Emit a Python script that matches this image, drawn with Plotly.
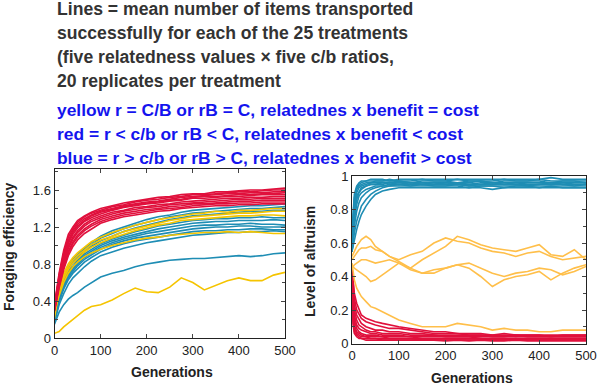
import plotly.graph_objects as go

# ---------------- data ----------------
gen_left = [0, 5, 10, 20, 30, 40, 50, 65, 80, 100, 125, 150, 175, 200, 225, 250,
            275, 300, 325, 350, 375, 400, 425, 450, 475, 500]

forage_red = [
    [0.36,0.55,0.70,0.95,1.12,1.20,1.27,1.32,1.36,1.40,1.43,1.46,1.48,1.50,1.52,1.53,1.55,1.56,1.56,1.58,1.58,1.59,1.60,1.60,1.61,1.62],
    [0.35,0.53,0.68,0.92,1.09,1.18,1.25,1.31,1.35,1.38,1.42,1.44,1.47,1.49,1.50,1.52,1.53,1.55,1.55,1.56,1.57,1.58,1.58,1.59,1.60,1.60],
    [0.34,0.52,0.66,0.90,1.06,1.16,1.23,1.29,1.33,1.37,1.40,1.43,1.45,1.47,1.48,1.50,1.52,1.53,1.54,1.55,1.56,1.56,1.57,1.57,1.58,1.58],
    [0.33,0.50,0.64,0.88,1.04,1.14,1.21,1.27,1.32,1.36,1.39,1.42,1.44,1.46,1.47,1.49,1.50,1.52,1.53,1.53,1.54,1.55,1.55,1.56,1.56,1.57],
    [0.33,0.49,0.63,0.86,1.02,1.12,1.19,1.26,1.30,1.34,1.38,1.41,1.43,1.45,1.46,1.48,1.49,1.51,1.51,1.52,1.53,1.53,1.54,1.55,1.55,1.55],
    [0.32,0.48,0.61,0.83,0.99,1.09,1.16,1.23,1.28,1.32,1.36,1.38,1.41,1.42,1.44,1.45,1.47,1.48,1.49,1.50,1.51,1.51,1.52,1.52,1.53,1.53],
    [0.31,0.46,0.59,0.81,0.97,1.07,1.14,1.21,1.26,1.30,1.34,1.37,1.39,1.41,1.42,1.44,1.45,1.46,1.47,1.48,1.49,1.50,1.50,1.51,1.51,1.51],
    [0.30,0.45,0.57,0.78,0.94,1.04,1.11,1.18,1.23,1.28,1.32,1.35,1.37,1.39,1.40,1.42,1.43,1.45,1.45,1.46,1.47,1.48,1.48,1.49,1.49,1.49],
    [0.30,0.44,0.56,0.76,0.92,1.02,1.09,1.16,1.21,1.26,1.30,1.33,1.35,1.37,1.39,1.40,1.41,1.43,1.44,1.45,1.45,1.46,1.46,1.47,1.47,1.47],
    [0.29,0.43,0.54,0.74,0.89,0.99,1.06,1.13,1.18,1.24,1.28,1.31,1.33,1.35,1.37,1.38,1.40,1.41,1.42,1.43,1.43,1.44,1.44,1.45,1.45,1.45],
]
forage_yellow = [
    [0.30,0.45,0.55,0.70,0.80,0.87,0.92,0.98,1.04,1.09,1.14,1.18,1.22,1.25,1.28,1.30,1.32,1.34,1.35,1.37,1.36,1.38,1.38,1.39,1.40,1.40],
    [0.28,0.42,0.52,0.67,0.77,0.84,0.89,0.95,1.01,1.06,1.10,1.15,1.18,1.21,1.24,1.27,1.29,1.31,1.32,1.33,1.34,1.35,1.35,1.36,1.37,1.37],
    [0.25,0.40,0.50,0.64,0.74,0.81,0.86,0.93,0.98,1.03,1.08,1.12,1.16,1.19,1.22,1.24,1.27,1.28,1.29,1.30,1.31,1.32,1.32,1.33,1.33,1.32],
    [0.22,0.37,0.46,0.60,0.70,0.77,0.82,0.88,0.92,0.96,1.00,1.03,1.06,1.08,1.09,1.11,1.12,1.13,1.14,1.14,1.15,1.14,1.15,1.14,1.13,1.13],
    [0.05,0.06,0.07,0.12,0.16,0.20,0.25,0.30,0.34,0.36,0.41,0.48,0.54,0.50,0.49,0.55,0.65,0.60,0.52,0.57,0.62,0.65,0.62,0.62,0.68,0.71],
]
forage_blue = [
    [0.25,0.40,0.50,0.66,0.77,0.85,0.90,0.97,1.03,1.10,1.16,1.20,1.24,1.28,1.31,1.33,1.36,1.38,1.39,1.40,1.41,1.42,1.43,1.43,1.44,1.45],
    [0.24,0.38,0.48,0.64,0.75,0.83,0.88,0.95,1.01,1.08,1.13,1.18,1.22,1.25,1.28,1.31,1.33,1.35,1.36,1.37,1.38,1.39,1.40,1.40,1.41,1.42],
    [0.23,0.37,0.47,0.62,0.73,0.81,0.86,0.93,0.99,1.05,1.10,1.15,1.19,1.22,1.25,1.28,1.30,1.32,1.33,1.34,1.35,1.36,1.37,1.37,1.38,1.38],
    [0.22,0.36,0.45,0.60,0.71,0.78,0.84,0.91,0.96,1.02,1.07,1.11,1.15,1.18,1.21,1.23,1.25,1.27,1.28,1.29,1.29,1.30,1.30,1.31,1.30,1.30],
    [0.21,0.35,0.44,0.58,0.69,0.76,0.82,0.89,0.94,1.00,1.05,1.09,1.12,1.15,1.18,1.20,1.22,1.24,1.25,1.26,1.26,1.27,1.27,1.27,1.28,1.27],
    [0.20,0.33,0.42,0.56,0.67,0.74,0.80,0.87,0.92,0.98,1.03,1.07,1.10,1.13,1.15,1.17,1.19,1.21,1.22,1.22,1.23,1.23,1.24,1.23,1.23,1.22],
    [0.19,0.32,0.41,0.55,0.65,0.72,0.78,0.85,0.90,0.96,1.01,1.05,1.08,1.10,1.12,1.14,1.16,1.18,1.19,1.20,1.20,1.21,1.21,1.20,1.20,1.20],
    [0.18,0.30,0.39,0.53,0.63,0.70,0.75,0.82,0.87,0.93,0.98,1.02,1.05,1.07,1.09,1.11,1.13,1.15,1.16,1.16,1.17,1.17,1.18,1.18,1.17,1.17],
    [0.17,0.28,0.36,0.48,0.58,0.65,0.70,0.77,0.83,0.89,0.93,0.97,1.00,1.03,1.05,1.07,1.09,1.11,1.12,1.13,1.14,1.14,1.15,1.15,1.16,1.15],
    [0.15,0.22,0.28,0.36,0.42,0.46,0.49,0.55,0.60,0.66,0.70,0.73,0.77,0.80,0.82,0.84,0.85,0.86,0.86,0.87,0.88,0.89,0.88,0.89,0.91,0.92],
]

gen_right = [0, 2, 5, 10, 15, 20, 30, 40, 50, 65, 80, 100, 125, 150, 175, 200, 225,
             250, 275, 300, 325, 350, 375, 400, 425, 450, 475, 500]

altru_blue = [
    [0.55,0.76,0.89,0.94,0.96,0.97,0.97,0.98,0.98,0.98,0.97,0.98,0.98,0.98,0.98,0.98,0.98,0.98,0.98,0.98,0.98,0.98,0.98,0.98,0.99,0.98,0.98,0.98],
    [0.55,0.74,0.87,0.93,0.95,0.96,0.97,0.97,0.97,0.97,0.98,0.97,0.97,0.98,0.97,0.97,0.98,0.97,0.97,0.97,0.98,0.97,0.97,0.98,0.97,0.97,0.97,0.97],
    [0.55,0.72,0.85,0.92,0.94,0.95,0.96,0.96,0.97,0.97,0.97,0.97,0.96,0.97,0.97,0.97,0.96,0.97,0.97,0.96,0.97,0.97,0.97,0.97,0.96,0.97,0.97,0.96],
    [0.55,0.70,0.83,0.90,0.93,0.94,0.95,0.96,0.96,0.96,0.96,0.97,0.96,0.96,0.96,0.96,0.96,0.96,0.97,0.96,0.96,0.96,0.96,0.96,0.96,0.96,0.96,0.96],
    [0.55,0.68,0.80,0.88,0.91,0.93,0.94,0.95,0.95,0.96,0.96,0.96,0.96,0.96,0.95,0.96,0.96,0.95,0.96,0.96,0.96,0.95,0.96,0.96,0.96,0.95,0.96,0.96],
    [0.55,0.66,0.77,0.86,0.90,0.92,0.94,0.95,0.95,0.95,0.96,0.95,0.96,0.95,0.95,0.96,0.95,0.95,0.95,0.96,0.95,0.95,0.95,0.95,0.96,0.95,0.95,0.95],
    [0.55,0.64,0.74,0.83,0.88,0.90,0.92,0.93,0.94,0.94,0.95,0.95,0.95,0.95,0.95,0.95,0.95,0.94,0.95,0.95,0.95,0.95,0.94,0.95,0.95,0.95,0.94,0.95],
    [0.55,0.62,0.70,0.79,0.84,0.87,0.90,0.92,0.93,0.94,0.94,0.95,0.94,0.95,0.94,0.94,0.95,0.94,0.94,0.94,0.94,0.94,0.94,0.94,0.94,0.94,0.94,0.94],
    [0.55,0.60,0.66,0.73,0.78,0.82,0.86,0.89,0.91,0.93,0.94,0.94,0.94,0.94,0.94,0.94,0.94,0.93,0.94,0.94,0.93,0.94,0.94,0.93,0.94,0.93,0.93,0.93],
    [0.55,0.58,0.62,0.68,0.73,0.77,0.82,0.86,0.89,0.91,0.92,0.93,0.93,0.93,0.93,0.93,0.93,0.93,0.93,0.92,0.93,0.93,0.93,0.93,0.93,0.93,0.93,0.93],
]
altru_yellow = [
    [0.52,0.53,0.55,0.58,0.60,0.62,0.64,0.62,0.58,0.55,0.52,0.50,0.53,0.55,0.60,0.63,0.61,0.60,0.57,0.55,0.54,0.52,0.54,0.55,0.52,0.50,0.51,0.52],
    [0.50,0.51,0.52,0.54,0.56,0.57,0.57,0.58,0.56,0.55,0.52,0.49,0.45,0.50,0.54,0.58,0.64,0.62,0.59,0.57,0.56,0.55,0.57,0.59,0.53,0.52,0.56,0.50],
    [0.47,0.46,0.45,0.44,0.43,0.42,0.40,0.37,0.38,0.41,0.44,0.48,0.45,0.42,0.44,0.45,0.47,0.45,0.40,0.34,0.38,0.40,0.41,0.43,0.38,0.42,0.45,0.47],
    [0.45,0.46,0.47,0.48,0.49,0.50,0.50,0.49,0.48,0.49,0.50,0.48,0.44,0.42,0.42,0.45,0.47,0.48,0.45,0.42,0.40,0.42,0.43,0.45,0.44,0.41,0.43,0.46],
    [0.48,0.44,0.38,0.33,0.30,0.28,0.25,0.22,0.21,0.19,0.17,0.14,0.12,0.10,0.10,0.10,0.12,0.11,0.10,0.08,0.09,0.08,0.08,0.07,0.07,0.08,0.08,0.08],
]
altru_red = [
    [0.45,0.38,0.30,0.24,0.20,0.17,0.15,0.14,0.13,0.12,0.11,0.10,0.09,0.08,0.07,0.07,0.06,0.06,0.06,0.05,0.06,0.05,0.05,0.05,0.05,0.05,0.05,0.05],
    [0.45,0.35,0.27,0.20,0.17,0.15,0.13,0.12,0.11,0.10,0.09,0.09,0.08,0.07,0.06,0.06,0.06,0.05,0.05,0.05,0.05,0.05,0.05,0.05,0.04,0.05,0.05,0.05],
    [0.45,0.32,0.23,0.17,0.14,0.12,0.10,0.09,0.08,0.08,0.07,0.07,0.06,0.06,0.05,0.05,0.05,0.05,0.05,0.04,0.04,0.05,0.04,0.04,0.04,0.04,0.04,0.04],
    [0.45,0.30,0.20,0.14,0.11,0.10,0.08,0.07,0.07,0.06,0.06,0.06,0.05,0.05,0.05,0.04,0.04,0.04,0.04,0.04,0.04,0.04,0.04,0.04,0.04,0.04,0.04,0.04],
    [0.45,0.27,0.17,0.11,0.09,0.08,0.07,0.06,0.06,0.05,0.05,0.05,0.04,0.04,0.04,0.04,0.04,0.04,0.03,0.03,0.03,0.03,0.03,0.03,0.03,0.03,0.03,0.03],
    [0.45,0.24,0.14,0.09,0.07,0.06,0.05,0.05,0.05,0.04,0.04,0.04,0.04,0.03,0.03,0.03,0.03,0.03,0.03,0.03,0.03,0.03,0.03,0.03,0.03,0.03,0.03,0.03],
    [0.45,0.21,0.11,0.07,0.06,0.05,0.04,0.04,0.04,0.04,0.03,0.03,0.03,0.03,0.03,0.03,0.03,0.03,0.03,0.02,0.02,0.03,0.02,0.02,0.02,0.02,0.02,0.02],
    [0.45,0.18,0.09,0.06,0.05,0.04,0.04,0.03,0.03,0.03,0.03,0.03,0.03,0.02,0.02,0.02,0.02,0.02,0.02,0.02,0.02,0.02,0.02,0.02,0.02,0.02,0.02,0.02],
    [0.45,0.15,0.07,0.05,0.04,0.03,0.03,0.03,0.03,0.02,0.02,0.02,0.02,0.02,0.02,0.02,0.02,0.02,0.02,0.02,0.02,0.02,0.02,0.02,0.02,0.02,0.02,0.02],
    [0.45,0.12,0.06,0.04,0.03,0.03,0.02,0.02,0.02,0.02,0.02,0.02,0.02,0.02,0.02,0.015,0.02,0.015,0.02,0.015,0.015,0.02,0.015,0.015,0.015,0.015,0.015,0.015],
]

title_lines = [
    "Lines = mean number of items transported",
    "successfully for each of the 25 treatments",
    "(five relatedness values × five c/b ratios,",
    "20 replicates per treatment",
]
legend_lines = [
    "yellow r = C/B or rB = C, relatednes x benefit = cost",
    "red = r < c/b or rB < C, relatednes x benefit < cost",
    "blue = r > c/b or rB > C, relatednes x benefit > cost",
]

# ---------------- styling ----------------
RED = "#e0103c"
BLUE = "#1e8db4"
YEL_L = "#f5c400"
YEL_R = "#ffbf4a"
W, H = 600, 387
FONT = "Liberation Sans, Arial, sans-serif"

fig = go.Figure()

def add(xs, series, color, xa, ya):
    for s in series:
        fig.add_trace(go.Scatter(x=xs, y=s, mode="lines", xaxis=xa, yaxis=ya,
                                 line=dict(color=color, width=1.6),
                                 showlegend=False, hoverinfo="skip"))

add(gen_left, forage_blue, BLUE, "x", "y")
add(gen_left, forage_yellow, YEL_L, "x", "y")
add(gen_left, forage_red, RED, "x", "y")
add(gen_right, altru_red, RED, "x2", "y2")
add(gen_right, altru_yellow, YEL_R, "x2", "y2")
add(gen_right, altru_blue, BLUE, "x2", "y2")

def px_x(p):
    return p / W

def px_y(p):
    return 1 - p / H

axis_common = dict(showline=True, linecolor="#222", linewidth=1, mirror="allticks",
                   ticks="inside", ticklen=4, tickcolor="#444", showgrid=False,
                   zeroline=False, automargin=False,
                   tickfont=dict(family=FONT, size=13, color="#222"))

fig.update_layout(
    width=W, height=H, margin=dict(l=0, r=0, t=0, b=0),
    paper_bgcolor="white", plot_bgcolor="white",
    xaxis=dict(domain=[px_x(54.5), px_x(285)], range=[0, 500], dtick=100,
               anchor="y", **axis_common),
    yaxis=dict(domain=[px_y(338), px_y(169)], range=[0, 1.827], tickvals=[0, 0.4, 0.8, 1.2, 1.6],
               ticktext=["0", "0.4", "0.8", "1.2", "1.6"], anchor="x",
               minor=dict(dtick=0.2, ticks="inside", ticklen=3, tickcolor="#444"),
               **axis_common),
    xaxis2=dict(domain=[px_x(352), px_x(586)], range=[0, 500], dtick=100,
                anchor="y2", **axis_common),
    yaxis2=dict(domain=[px_y(343.5), px_y(176)], range=[0, 1], tickvals=[0, 0.2, 0.4, 0.6, 0.8, 1],
                ticktext=["0", "0.2", "0.4", "0.6", "0.8", "1"], anchor="x2",
                minor=dict(dtick=0.1, ticks="inside", ticklen=3, tickcolor="#444"),
                **axis_common),
)

ann = []
ys_title = [9, 33, 57, 81]
for t, yy in zip(title_lines, ys_title):
    ann.append(dict(text="<b>%s</b>" % t, x=px_x(55), y=px_y(yy), xref="paper", yref="paper",
                    xanchor="left", yanchor="middle", showarrow=False,
                    font=dict(family=FONT, size=17.6, color="#333333")))
ys_leg = [110, 134, 158]
for t, yy in zip(legend_lines, ys_leg):
    ann.append(dict(text="<b>%s</b>" % t, x=px_x(55), y=px_y(yy), xref="paper", yref="paper",
                    xanchor="left", yanchor="middle", showarrow=False,
                    font=dict(family=FONT, size=17.4, color="#1414ee")))

ann.append(dict(text="<b>Generations</b>", x=px_x(172), y=px_y(372), xref="paper", yref="paper",
                xanchor="center", yanchor="middle", showarrow=False,
                font=dict(family=FONT, size=14, color="#222")))
ann.append(dict(text="<b>Generations</b>", x=px_x(472), y=px_y(378), xref="paper", yref="paper",
                xanchor="center", yanchor="middle", showarrow=False,
                font=dict(family=FONT, size=14, color="#222")))
ann.append(dict(text="<b>Foraging efficiency</b>", x=px_x(9), y=px_y(247), xref="paper", yref="paper",
                xanchor="center", yanchor="middle", showarrow=False, textangle=-90,
                font=dict(family=FONT, size=14, color="#222")))
ann.append(dict(text="<b>Level of altruism</b>", x=px_x(310), y=px_y(262), xref="paper", yref="paper",
                xanchor="center", yanchor="middle", showarrow=False, textangle=-90,
                font=dict(family=FONT, size=14, color="#222")))
fig.update_layout(annotations=ann)

fig.write_html("out.html", config={"displayModeBar": False},
               post_script="document.body.style.margin='0px';document.body.style.overflow='hidden';")
